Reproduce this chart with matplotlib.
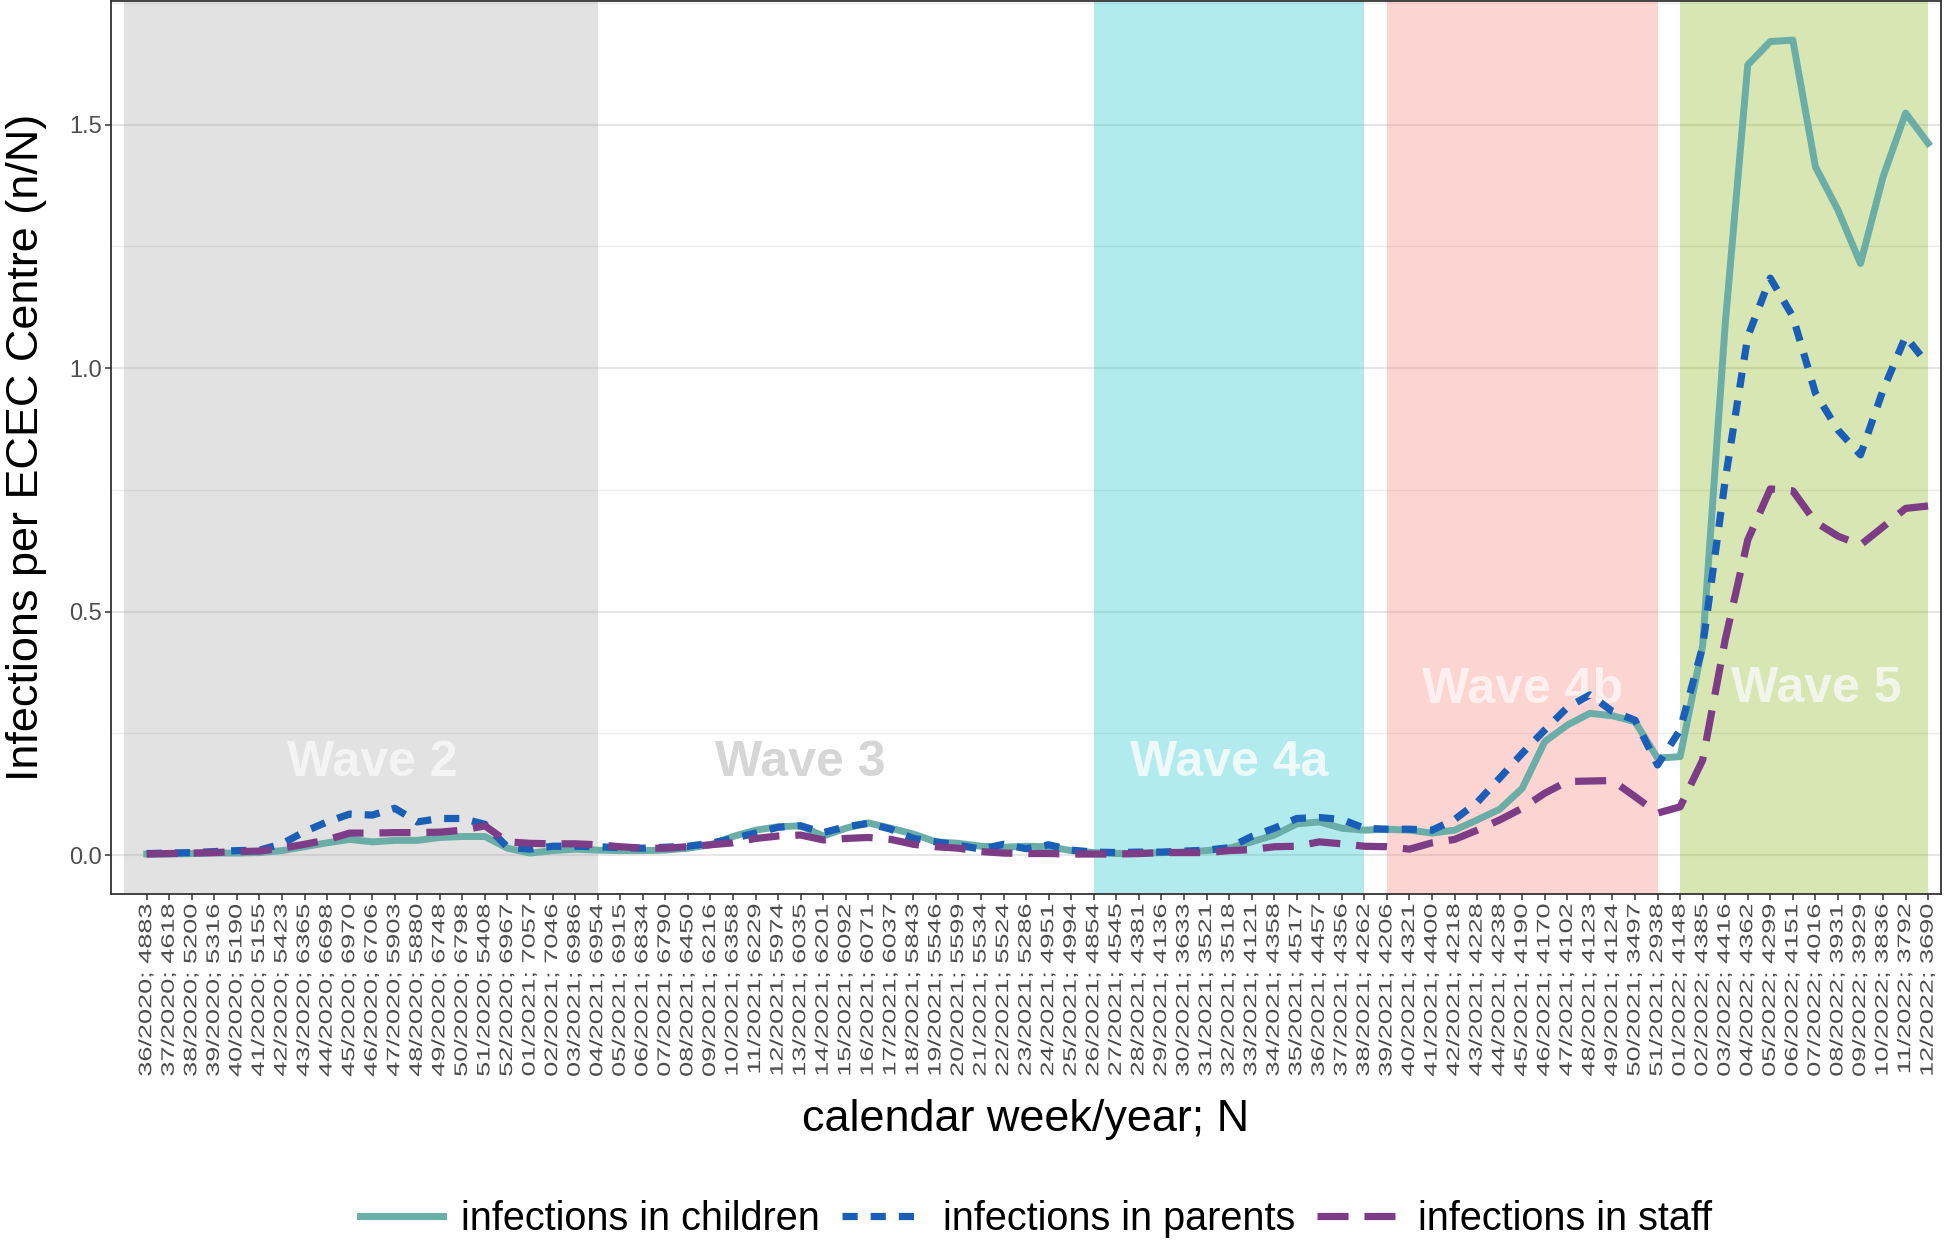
import matplotlib
matplotlib.use("Agg")
import matplotlib.pyplot as plt
import matplotlib.patheffects as pe
from matplotlib.transforms import Affine2D
from matplotlib.ticker import MultipleLocator, FormatStrFormatter

plt.rcParams['font.family'] = ['Liberation Sans', 'DejaVu Sans']

weeks = ['36/2020', '37/2020', '38/2020', '39/2020', '40/2020', '41/2020', '42/2020', '43/2020',
         '44/2020', '45/2020', '46/2020', '47/2020', '48/2020', '49/2020', '50/2020', '51/2020',
         '52/2020',
         '01/2021', '02/2021', '03/2021', '04/2021', '05/2021', '06/2021', '07/2021', '08/2021',
         '09/2021', '10/2021', '11/2021', '12/2021', '13/2021', '14/2021', '15/2021', '16/2021',
         '17/2021', '18/2021', '19/2021', '20/2021', '21/2021', '22/2021', '23/2021', '24/2021',
         '25/2021', '26/2021', '27/2021', '28/2021', '29/2021', '30/2021', '31/2021', '32/2021',
         '33/2021', '34/2021', '35/2021', '36/2021', '37/2021', '38/2021', '39/2021', '40/2021',
         '41/2021', '42/2021', '43/2021', '44/2021', '45/2021', '46/2021', '47/2021', '48/2021',
         '49/2021', '50/2021', '51/2021',
         '01/2022', '02/2022', '03/2022', '04/2022', '05/2022', '06/2022', '07/2022', '08/2022',
         '09/2022', '10/2022', '11/2022', '12/2022']

n_centres = [4883, 4618, 5200, 5316, 5190, 5155, 5423, 6365, 6698, 6970, 6706, 5903, 5880, 6748,
             6798, 5408, 6967,
             7057, 7046, 6986, 6954, 6915, 6834, 6790, 6450, 6216, 6358, 6229, 5974, 6035, 6201,
             6092, 6071, 6037, 5843, 5546, 5599, 5534, 5524, 5286, 4951, 4994, 4854, 4545, 4381,
             4136, 3633, 3521, 3518, 4121, 4358, 4517, 4457, 4356, 4262, 4206, 4321, 4400, 4218,
             4228, 4238, 4190, 4170, 4102, 4123, 4124, 3497, 2938,
             4148, 4385, 4416, 4362, 4299, 4151, 4016, 3931, 3929, 3836, 3792, 3690]

children = [0.002, 0.002, 0.003, 0.004, 0.004, 0.005, 0.009, 0.017, 0.025, 0.032,
            0.027, 0.030, 0.030, 0.036, 0.038, 0.038, 0.014, 0.004, 0.009, 0.012,
            0.010, 0.009, 0.009, 0.010, 0.014, 0.021, 0.038, 0.051, 0.058, 0.060,
            0.039, 0.055, 0.066, 0.055, 0.043, 0.027, 0.024, 0.018, 0.016, 0.018,
            0.017, 0.009, 0.005, 0.003, 0.003, 0.005, 0.006, 0.009, 0.014, 0.027,
            0.041, 0.064, 0.068, 0.055, 0.051, 0.053, 0.051, 0.045, 0.051, 0.072,
            0.094, 0.137, 0.233, 0.267, 0.291, 0.286, 0.274, 0.199, 0.202, 0.430,
            1.090, 1.623, 1.671, 1.674, 1.414, 1.325, 1.215, 1.393, 1.524, 1.462]

parents = [0.003, 0.004, 0.005, 0.007, 0.009, 0.010, 0.023, 0.048, 0.068, 0.084,
           0.082, 0.096, 0.068, 0.075, 0.075, 0.063, 0.016, 0.012, 0.018, 0.018,
           0.017, 0.015, 0.014, 0.016, 0.018, 0.024, 0.034, 0.045, 0.057, 0.060,
           0.046, 0.058, 0.065, 0.053, 0.034, 0.027, 0.020, 0.012, 0.022, 0.013,
           0.021, 0.010, 0.006, 0.005, 0.006, 0.006, 0.008, 0.010, 0.015, 0.038,
           0.055, 0.075, 0.077, 0.073, 0.055, 0.053, 0.053, 0.051, 0.073, 0.108,
           0.158, 0.209, 0.257, 0.303, 0.329, 0.295, 0.277, 0.185, 0.257, 0.428,
           0.770, 1.065, 1.185, 1.106, 0.949, 0.873, 0.822, 0.955, 1.065, 1.007]

staff = [0.002, 0.003, 0.004, 0.005, 0.007, 0.008, 0.014, 0.022, 0.031, 0.045,
         0.045, 0.046, 0.046, 0.047, 0.051, 0.060, 0.027, 0.024, 0.023, 0.023,
         0.021, 0.017, 0.014, 0.014, 0.017, 0.021, 0.025, 0.034, 0.039, 0.041,
         0.031, 0.034, 0.036, 0.032, 0.022, 0.017, 0.014, 0.007, 0.004, 0.003,
         0.003, 0.002, 0.002, 0.002, 0.003, 0.005, 0.005, 0.005, 0.009, 0.011,
         0.017, 0.018, 0.027, 0.023, 0.018, 0.017, 0.012, 0.025, 0.032, 0.051,
         0.072, 0.096, 0.127, 0.151, 0.152, 0.153, 0.120, 0.086, 0.099, 0.195,
         0.442, 0.647, 0.752, 0.748, 0.684, 0.655, 0.637, 0.674, 0.712, 0.717]

# wave periods, as category index ranges (first, last)
wave_names = ['Wave 2', 'Wave 3', 'Wave 4a', 'Wave 4b', 'Wave 5']
wave_spans = [(-1, 20), None, (42, 54), (55, 67), (68, 79)]


class StretchText(pe.AbstractPathEffect):
    # the tick labels in the original are drawn stretched along their length
    def __init__(self, factor):
        super().__init__()
        self.factor = factor

    def draw_path(self, renderer, gc, tpath, affine, rgbFace=None):
        end = tpath.vertices[:, 0].max()
        stretch = Affine2D().translate(-end, 0).scale(self.factor, 1).translate(end, 0)
        renderer.draw_path(gc, tpath, stretch + affine, rgbFace)


fig = plt.figure(figsize=(19.45, 12.4), dpi=100)
ax = fig.add_axes([111 / 1945, 1 - 894 / 1240, 1830 / 1945, 893 / 1240])

x = list(range(len(weeks)))

band_colors = ['#A0A0A0', None, '#00BFC4', '#F8766D', '#7CAE00']
for span, col in zip(wave_spans, band_colors):
    if span is not None:
        ax.axvspan(span[0], span[1], color=col, alpha=0.3, lw=0, zorder=1)

text_colors = ['#F4F4F4', '#D6D6D6', '#EEF9F9', '#FDF0EF', '#F2F6EA']
text_pos = [(10, 0.162), (29, 0.162), (48, 0.162), (61, 0.312), (74.05, 0.315)]
for name, (tx, ty), col in zip(wave_names, text_pos, text_colors):
    ax.text(tx, ty, name, color=col, fontsize=36, fontweight='bold',
            ha='center', va='baseline', zorder=2)

ax.plot(x, children, color='#6AAEA7', lw=5.0, zorder=3, label='infections in children')
ax.plot(x, parents, color='#1A5EB8', lw=5.2, dashes=(2.1, 1.8), zorder=3,
        label='infections in parents')
ax.plot(x, staff, color='#7D3C86', lw=5.2, dashes=(4.3, 2.2), zorder=3,
        label='infections in staff')

ax.set_xlim(-1.583, 79.57)
ax.set_ylim(-0.0801, 1.7543)

ax.set_axisbelow(True)
ax.yaxis.set_major_locator(MultipleLocator(0.5))
ax.yaxis.set_minor_locator(MultipleLocator(0.25))
ax.yaxis.set_major_formatter(FormatStrFormatter('%.1f'))
ax.grid(axis='y', which='major', color='#E6E6E6', lw=1.5)
ax.grid(axis='y', which='minor', color='#EBEBEB', lw=1.0)

labels = ['%s; %d' % (w, n) for w, n in zip(weeks, n_centres)]
ax.set_xticks(x)
ax.set_xticklabels(labels, rotation=90, fontsize=13, color='#4D4D4D')
for lab in ax.get_xticklabels():
    lab.set_path_effects([StretchText(1.5)])

ax.tick_params(axis='x', length=4.3, width=1.1, color='#333333', pad=3)
ax.tick_params(axis='y', which='major', length=4.3, width=1.1, color='#333333', pad=2,
               labelsize=17, labelcolor='#4D4D4D')
ax.tick_params(axis='y', which='minor', length=0)
for s in ax.spines.values():
    s.set_color('#333333')
    s.set_linewidth(1.3)

ax.set_xlabel('calendar week/year; N', fontsize=32.4, va='baseline')
ax.xaxis.set_label_coords(0.5, -(1131 - 894) / 893)
ax.set_ylabel('Infections per ECEC Centre (n/N)', fontsize=32.4, va='baseline')
ax.yaxis.set_label_coords((38.5 - 111) / 1830, 0.5)

handles, names = ax.get_legend_handles_labels()
fig.legend(handles, names, loc='center', bbox_to_anchor=(1036 / 1945, 1 - 1219 / 1240),
           ncol=3, frameon=False, fontsize=28.5, handlelength=2.1, handletextpad=0.45,
           columnspacing=0.55, borderpad=0)

fig.savefig('out.png', dpi=100)
